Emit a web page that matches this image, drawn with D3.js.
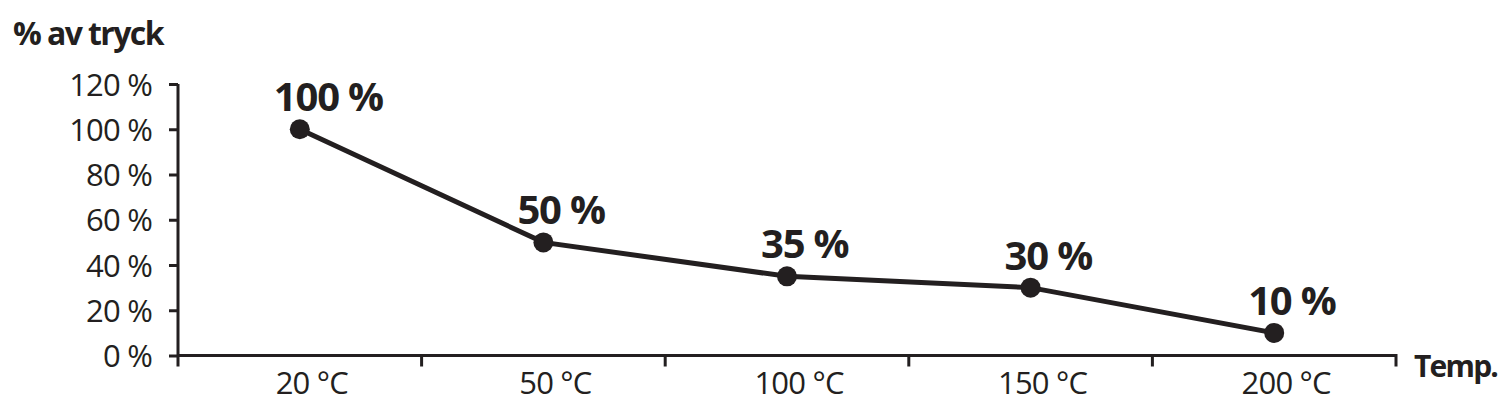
<!DOCTYPE html>
<html><head><meta charset="utf-8">
<script src="https://cdn.jsdelivr.net/npm/d3@7"></script>
<style>
html,body{margin:0;padding:0;background:#fff;}
text{font-family:"Open Sans",sans-serif;fill:#231f20;}
</style></head>
<body>
<svg id="c" width="1500" height="410"></svg>
<script>
const categories = ["20 °C","50 °C","100 °C","150 °C","200 °C"];
const values = [100,50,35,30,10];
const valueLabels = ["100 %","50 %","35 %","30 %","10 %"];
const yTicks = [0,20,40,60,80,100,120];
const yTitle = "% av tryck";
const xTitle = "Temp.";

(function(){
const ink = "#231f20";
const svg = d3.select("#c");
const mLeft = 178, mRight = 1396, mTop = 84, mBottom = 355.5;

const x = d3.scaleBand().domain(categories).range([mLeft, mRight]);
const y = d3.scaleLinear().domain([0,120]).range([mBottom, mTop]);

// y axis
const ya = svg.append("g").attr("transform",`translate(${mLeft},0)`)
  .call(d3.axisLeft(y).tickValues(yTicks).tickSize(9).tickPadding(17).tickFormat(d=>d+" %"));
ya.select(".domain").attr("d",`M0,${mTop}V${mBottom+11}`);
ya.selectAll("line,path").attr("stroke",ink).attr("stroke-width",3);
ya.selectAll("text").attr("font-size",31).attr("fill",ink).attr("letter-spacing",-0.8)
  .style("font-family","'Open Sans',sans-serif").attr("dy","0.36em");

// x axis
const xa = svg.append("g").attr("transform",`translate(0,${mBottom})`)
  .call(d3.axisBottom(x).tickSize(0).tickPadding(0));
xa.select(".domain").attr("d",`M${mLeft},0H${mRight}V11`);
xa.selectAll("path").attr("stroke",ink).attr("stroke-width",3).attr("fill","none");
xa.selectAll(".tick text").attr("font-size",31).attr("fill",ink).attr("letter-spacing",-0.8)
  .attr("dx",12).attr("dy",0).attr("y",38)
  .style("font-family","'Open Sans',sans-serif");
// boundary ticks between bands
const bounds = categories.slice(1).map(c=>x(c));
svg.append("g").selectAll("line").data(bounds).join("line")
  .attr("x1",d=>d).attr("x2",d=>d).attr("y1",mBottom).attr("y2",mBottom+11)
  .attr("stroke",ink).attr("stroke-width",3);

// line
const cx = (d,i)=>x(categories[i])+x.bandwidth()/2;
const line = d3.line().x((d,i)=>cx(d,i)).y(d=>y(d));
svg.append("path").datum(values).attr("d",line).attr("fill","none").attr("stroke",ink).attr("stroke-width",5);
svg.append("g").selectAll("circle").data(values).join("circle")
  .attr("cx",cx).attr("cy",d=>y(d)).attr("r",10).attr("fill",ink);
svg.append("g").selectAll("text").data(values).join("text")
  .attr("x",(d,i)=>cx(d,i)-26).attr("y",d=>y(d)-18).attr("letter-spacing",-1.2)
  .attr("font-size",40).attr("font-weight",700).text((d,i)=>valueLabels[i]);

// titles
svg.append("text").attr("x",13).attr("y",45).attr("font-size",32).attr("font-weight",700)
  .attr("letter-spacing",-1.6).text(yTitle);
svg.append("text").attr("x",1414).attr("y",377).attr("font-size",30).attr("font-weight",700)
  .attr("letter-spacing",-1.8).text(xTitle);
})();
</script>
</body></html>
